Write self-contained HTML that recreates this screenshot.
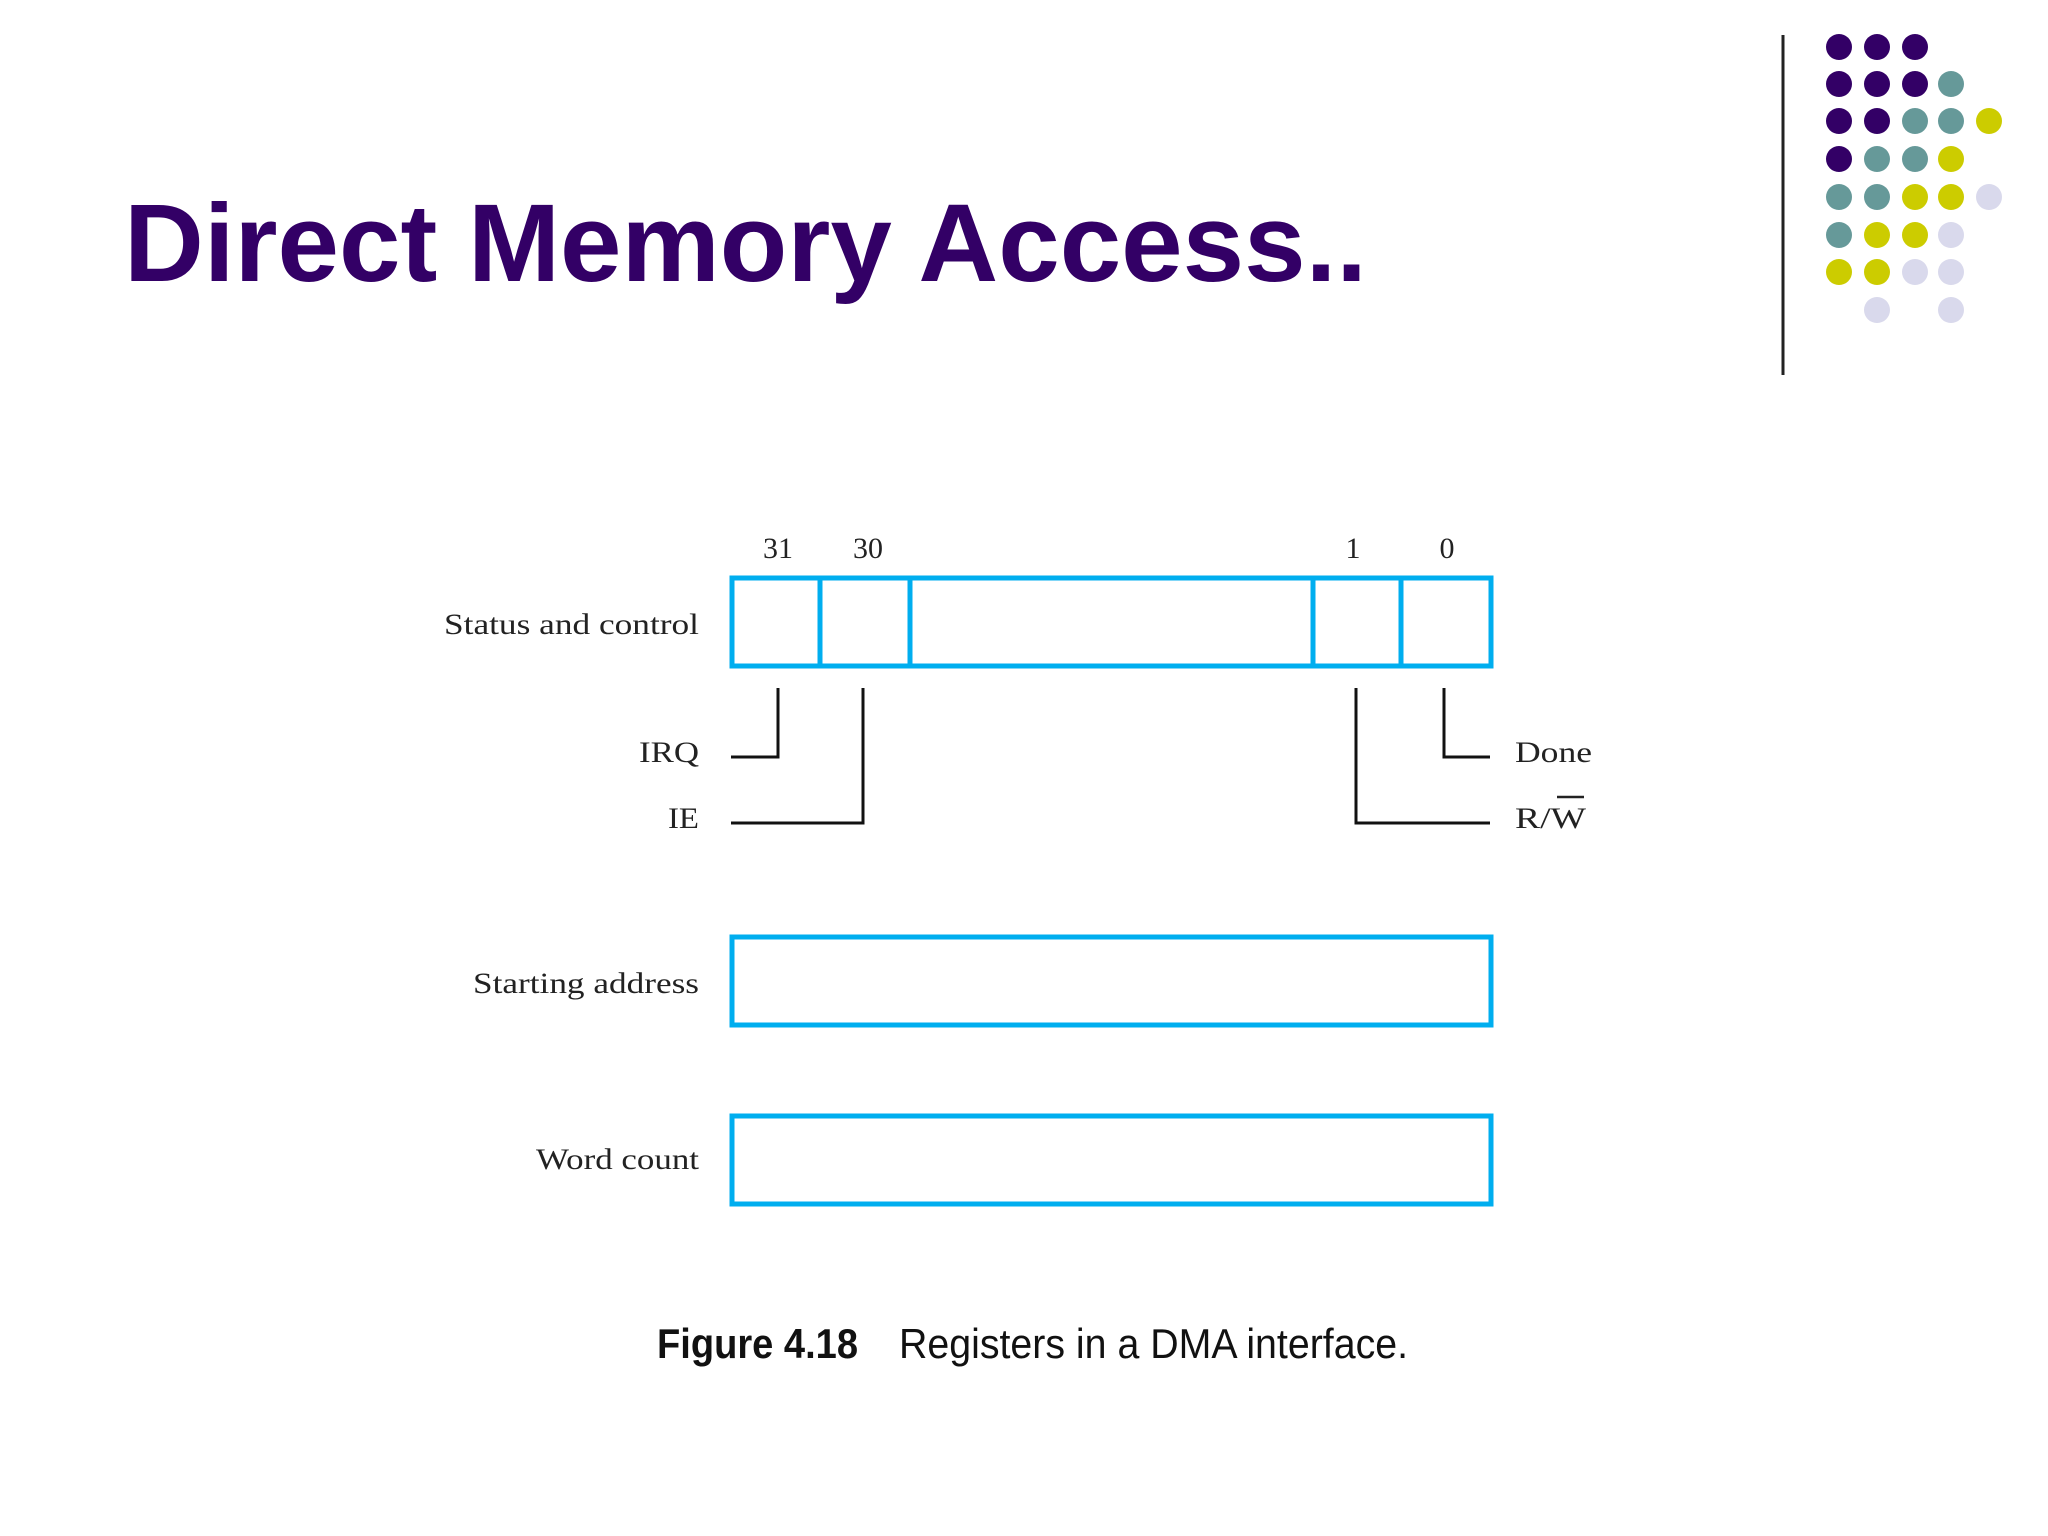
<!DOCTYPE html>
<html><head><style>html,body{margin:0;padding:0;background:#fff}svg{display:block}</style></head>
<body>
<svg width="2048" height="1536" viewBox="0 0 2048 1536" xmlns="http://www.w3.org/2000/svg">
<rect width="2048" height="1536" fill="#fff"/>
<text x="124" y="281" font-family="Liberation Sans, sans-serif" font-weight="bold" font-size="110" fill="#330066" textLength="1243" lengthAdjust="spacingAndGlyphs">Direct Memory Access..</text>
<line x1="1783" y1="35" x2="1783" y2="375" stroke="#222" stroke-width="3"/>
<g>
<circle cx="1839" cy="47" r="13" fill="#330066"/><circle cx="1877" cy="47" r="13" fill="#330066"/><circle cx="1915" cy="47" r="13" fill="#330066"/>
<circle cx="1839" cy="84" r="13" fill="#330066"/><circle cx="1877" cy="84" r="13" fill="#330066"/><circle cx="1915" cy="84" r="13" fill="#330066"/><circle cx="1951" cy="84" r="13" fill="#669999"/>
<circle cx="1839" cy="121" r="13" fill="#330066"/><circle cx="1877" cy="121" r="13" fill="#330066"/><circle cx="1915" cy="121" r="13" fill="#669999"/><circle cx="1951" cy="121" r="13" fill="#669999"/><circle cx="1989" cy="121" r="13" fill="#cccc00"/>
<circle cx="1839" cy="159" r="13" fill="#330066"/><circle cx="1877" cy="159" r="13" fill="#669999"/><circle cx="1915" cy="159" r="13" fill="#669999"/><circle cx="1951" cy="159" r="13" fill="#cccc00"/>
<circle cx="1839" cy="197" r="13" fill="#669999"/><circle cx="1877" cy="197" r="13" fill="#669999"/><circle cx="1915" cy="197" r="13" fill="#cccc00"/><circle cx="1951" cy="197" r="13" fill="#cccc00"/><circle cx="1989" cy="197" r="13" fill="#d9d9ec"/>
<circle cx="1839" cy="235" r="13" fill="#669999"/><circle cx="1877" cy="235" r="13" fill="#cccc00"/><circle cx="1915" cy="235" r="13" fill="#cccc00"/><circle cx="1951" cy="235" r="13" fill="#d9d9ec"/>
<circle cx="1839" cy="272" r="13" fill="#cccc00"/><circle cx="1877" cy="272" r="13" fill="#cccc00"/><circle cx="1915" cy="272" r="13" fill="#d9d9ec"/><circle cx="1951" cy="272" r="13" fill="#d9d9ec"/>
<circle cx="1877" cy="310" r="13" fill="#d9d9ec"/><circle cx="1951" cy="310" r="13" fill="#d9d9ec"/>
</g>
<g font-family="Liberation Serif, serif" font-size="30" fill="#222" lengthAdjust="spacingAndGlyphs">
<text x="778" y="558" text-anchor="middle">31</text>
<text x="868" y="558" text-anchor="middle">30</text>
<text x="1353" y="558" text-anchor="middle">1</text>
<text x="1447" y="558" text-anchor="middle">0</text>
<text x="444" y="634" textLength="255" lengthAdjust="spacingAndGlyphs">Status and control</text>
<text x="639" y="762" textLength="60" lengthAdjust="spacingAndGlyphs">IRQ</text>
<text x="668" y="828" textLength="31" lengthAdjust="spacingAndGlyphs">IE</text>
<text x="1515" y="762" textLength="77" lengthAdjust="spacingAndGlyphs">Done</text>
<text x="1515" y="828" textLength="71" lengthAdjust="spacingAndGlyphs">R/W</text>
<text x="473" y="993" textLength="226" lengthAdjust="spacingAndGlyphs">Starting address</text>
<text x="536" y="1169" textLength="163" lengthAdjust="spacingAndGlyphs">Word count</text>
</g>
<line x1="1557" y1="797" x2="1584" y2="797" stroke="#222" stroke-width="2.5"/>
<g fill="none" stroke="#00aeef" stroke-width="5">
<rect x="732" y="578" width="759" height="88"/>
<line x1="820" y1="578" x2="820" y2="666"/>
<line x1="910" y1="578" x2="910" y2="666"/>
<line x1="1313" y1="578" x2="1313" y2="666"/>
<line x1="1401" y1="578" x2="1401" y2="666"/>
<rect x="732" y="937" width="759" height="88"/>
<rect x="732" y="1116" width="759" height="88"/>
</g>
<g fill="none" stroke="#111" stroke-width="3">
<polyline points="778,688 778,757 731,757"/>
<polyline points="863,688 863,823 731,823"/>
<polyline points="1356,688 1356,823 1490,823"/>
<polyline points="1444,688 1444,757 1490,757"/>
</g>
<text x="657" y="1358" font-family="Liberation Sans, sans-serif" font-weight="bold" font-size="42" fill="#111" textLength="201" lengthAdjust="spacingAndGlyphs">Figure 4.18</text>
<text x="899" y="1358" font-family="Liberation Sans, sans-serif" font-size="42" fill="#111" textLength="509" lengthAdjust="spacingAndGlyphs">Registers in a DMA interface.</text>
</svg>
</body></html>
